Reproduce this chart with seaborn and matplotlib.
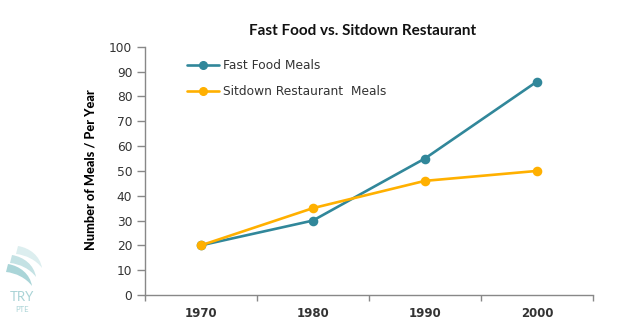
import matplotlib
matplotlib.use("Agg")
import matplotlib.pyplot as plt
import seaborn as sns
import pandas as pd
from matplotlib.lines import Line2D
from matplotlib.ticker import FixedLocator
from matplotlib.patches import PathPatch
from matplotlib.path import Path

years = ["1970", "1980", "1990", "2000"]
fast_food = [20, 30, 55, 86]
sitdown = [20, 35, 46, 50]
series_names = ["Fast Food Meals", "Sitdown Restaurant  Meals"]
colors = ["#31879A", "#FFB000"]

df = pd.DataFrame({
    "Year": years * 2,
    "Meals": fast_food + sitdown,
    "Series": [series_names[0]] * 4 + [series_names[1]] * 4,
})

sns.set_theme(style="white")
plt.rcParams["font.family"] = ["DejaVu Sans"]

fig = plt.figure(figsize=(6.41, 3.21), dpi=100)
ax = fig.add_axes([0.226, 0.081, 0.699, 0.773])

sns.pointplot(data=df, x="Year", y="Meals", hue="Series", order=years,
              hue_order=series_names, palette=colors, markers="o",
              markersize=5.5, linewidth=1.9, ax=ax, legend=False, errorbar=None)

ax.set_ylim(0, 100)
ax.set_xlim(-0.5, 3.5)
ax.set_yticks(range(0, 101, 10))
ax.xaxis.set_minor_locator(FixedLocator([-0.5, 0.5, 1.5, 2.5, 3.5]))
ax.tick_params(axis="x", which="major", length=0, pad=9, labelsize=8.5,
               labelcolor="#333333")
ax.tick_params(axis="x", which="minor", length=4, width=1, color="#888888",
               direction="out", bottom=True)
ax.tick_params(axis="y", length=6, width=1, color="#888888", direction="out",
               left=True, labelsize=8.8, labelcolor="#333333", pad=3)
for lbl in ax.get_xticklabels():
    lbl.set_fontweight("bold")

for s in ["top", "right"]:
    ax.spines[s].set_visible(False)
for s in ["left", "bottom"]:
    ax.spines[s].set_color("#888888")
    ax.spines[s].set_linewidth(1)

ax.set_xlabel("")
ax.set_ylabel("Number of Meals / Per Year", fontsize=9.2, fontweight=900,
              family=["Lato", "DejaVu Sans"], color="black")
ax.yaxis.set_label_coords(-0.108, 0.505)

fig.text(0.565, 0.903, "Fast Food vs. Sitdown Restaurant", ha="center",
         va="center", fontsize=11, fontweight="bold",
         family=["Lato", "DejaVu Sans"], color="#111111")

handles = [Line2D([0], [0], color=c, lw=1.9, marker="o", markersize=5.5)
           for c in colors]
ax.legend(handles, series_names, loc="upper left",
          bbox_to_anchor=(0.095, 0.95), frameon=False, fontsize=8.8,
          handlelength=2.6, handletextpad=0.3, labelspacing=1.05,
          borderpad=0, borderaxespad=0, labelcolor="#333333")

# watermark logo (image pixel coords, y downward)
def blade(dx, dy, color):
    pts = [(10, 250), (22, 252), (32, 260), (34, 272),
           (28, 264), (18, 259), (8, 258), (10, 250)]
    codes = [Path.MOVETO, Path.CURVE4, Path.CURVE4, Path.CURVE4,
             Path.CURVE4, Path.CURVE4, Path.CURVE4, Path.CLOSEPOLY]
    verts = [((x + dx) / 641, 1 - (y + dy) / 321) for x, y in pts]
    fig.patches.append(PathPatch(Path(verts, codes), transform=fig.transFigure,
                                 facecolor=color, edgecolor="none"))

blade(8, -4, "#DCEEEF")
blade(2, 5, "#C4E2E4")
blade(-2, 14, "#AAD5D8")
fig.text(0.035, 0.075, "TRY", ha="center", va="center", fontsize=9.5,
         color="#A9D3D6", family=["Lato", "DejaVu Sans"])
fig.text(0.035, 0.035, "PTE", ha="center", va="center", fontsize=5.5,
         color="#A9D3D6", family=["Lato", "DejaVu Sans"])

fig.savefig("out.png", dpi=100)
